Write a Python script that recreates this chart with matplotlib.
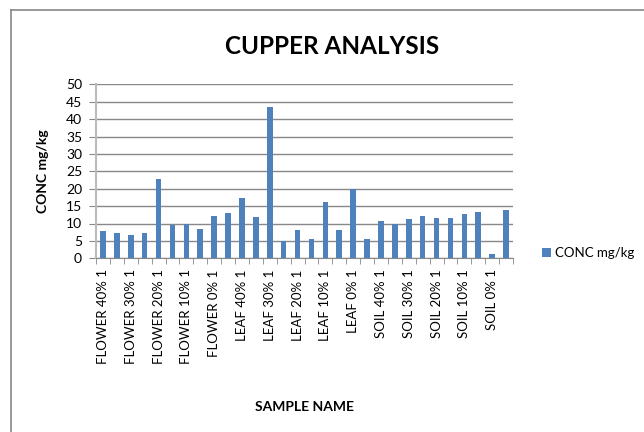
import numpy as np
import matplotlib
matplotlib.use('Agg')
import matplotlib.pyplot as plt
from matplotlib.lines import Line2D

# ── Data ──────────────────────────────────────────────────────────────────────
groups = ['FLOWER 40%', 'FLOWER 30%', 'FLOWER 20%', 'FLOWER 10%', 'FLOWER 0%',
          'LEAF 40%', 'LEAF 30%', 'LEAF 20%', 'LEAF 10%', 'LEAF 0%',
          'SOIL 40%', 'SOIL 30%', 'SOIL 20%', 'SOIL 10%', 'SOIL 0%']
samples = [f'{g} {r}' for g in groups for r in (1, 2)]
conc = [7.8, 7.3, 6.6, 7.3, 22.8, 9.5, 9.9, 8.3, 12.2, 13.1,
        17.2, 11.9, 43.6, 5.0, 8.0, 5.5, 16.1, 8.0, 20.0, 5.5,
        10.7, 9.9, 11.2, 12.2, 11.7, 11.7, 12.6, 13.3, 1.1, 13.9]
yticks = list(range(0, 51, 5))

# ── Plot ──────────────────────────────────────────────────────────────────────
plt.rcParams['font.family'] = ['Lato', 'DejaVu Sans']
fig = plt.figure(figsize=(6.44, 4.32), dpi=100)
fig.patch.set_facecolor('white')

# chart-area frame (only left and top edges visible in the crop)
fx, fy = 11 / 644, (432 - 10) / 432
fig.add_artist(Line2D([fx, fx], [0, fy], transform=fig.transFigure,
                      color='#888888', linewidth=1.2))
fig.add_artist(Line2D([fx, 1], [fy, fy], transform=fig.transFigure,
                      color='#888888', linewidth=1.2))

ax = fig.add_axes([96 / 644, (432 - 258.3) / 432, (513 - 96) / 644, (258.3 - 84.3) / 432])
x = np.arange(len(samples))
ax.bar(x, conc, width=0.4, color='#4F81BD', zorder=3, label='CONC mg/kg')

ax.set_xlim(-0.5, len(samples) - 0.5)
ax.set_ylim(0, 50)
ax.set_yticks(yticks)
ax.tick_params(axis='y', labelsize=10, length=5, color='#888888', pad=5)

# labels only on every other category, ticks on category boundaries
ax.set_xticks(x[::2])
ax.set_xticklabels(samples[::2], rotation=90, fontsize=9.5)
ax.tick_params(axis='x', length=0, pad=8)
ax.set_xticks(np.arange(-0.5, len(samples)), minor=True)
ax.tick_params(axis='x', which='minor', length=4, color='#888888')

ax.grid(axis='y', color='#888888', linewidth=1, zorder=0)
for s in ['top', 'right']:
    ax.spines[s].set_visible(False)
ax.spines['left'].set_color('#BBBBBB')
ax.spines['left'].set_linewidth(1.5)
ax.spines['bottom'].set_color('#888888')

ax.set_ylabel('CONC mg/kg', fontsize=10, fontweight='bold', labelpad=12)
fig.text((96 + 513) / 2 / 644, (432 - 407) / 432, 'SAMPLE NAME',
         ha='center', va='center', fontsize=10, fontweight='bold')
fig.text(332 / 644, (432 - 46) / 432, 'CUPPER ANALYSIS',
         ha='center', va='center', fontsize=17.5, fontweight='bold')

ax.legend(loc='center left', bbox_to_anchor=(530 / 644, (432 - 253) / 432),
          bbox_transform=fig.transFigure, frameon=False, fontsize=9.5,
          handlelength=0.7, handleheight=0.7, handletextpad=0.3)

plt.savefig('out.png', dpi=100, facecolor='white')
